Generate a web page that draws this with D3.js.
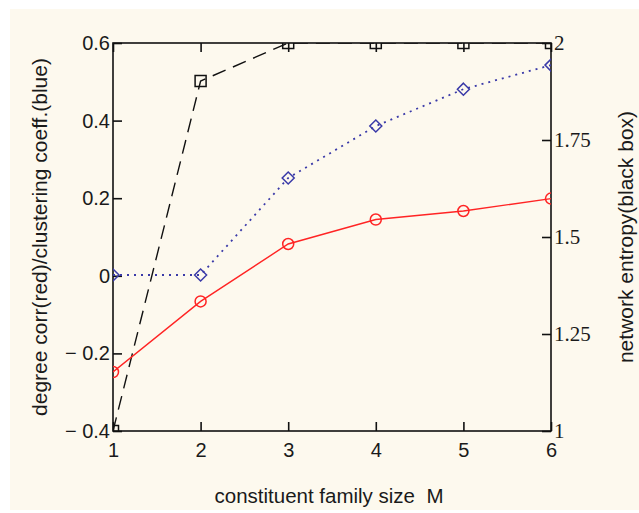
<!DOCTYPE html>
<html>
<head>
<meta charset="utf-8">
<script src="https://cdn.jsdelivr.net/npm/d3@7"></script>
<style>
  body { margin: 0; background: #fff; }
  svg { display: block; }
</style>
</head>
<body>
<div id="chart"></div>
<script>
// data
const familySize = [1, 2, 3, 4, 5, 6];
const degreeCorr = [-0.248, -0.066, 0.082, 0.145, 0.167, 0.199];
const clusteringCoeff = [0.002, 0.002, 0.252, 0.386, 0.481, 0.543];
const networkEntropy = [1.0, 1.902, 2.0, 2.0, 2.0, 2.0];

const xTicks = [1, 2, 3, 4, 5, 6];
const yLeftTicks = [-0.4, -0.2, 0, 0.2, 0.4, 0.6];
const yRightTicks = [1, 1.25, 1.5, 1.75, 2];
const yRightLabels = ['1', '1.25', '1.5', '1.75', '2'];

const width = 639, height = 513;
const plot = { left: 113, top: 43, right: 551, bottom: 431 };

const svg = d3.select('#chart')
  .append('svg')
  .attr('width', width)
  .attr('height', height);

// cream panel
svg.append('rect')
  .attr('x', 10)
  .attr('y', 9)
  .attr('width', width - 10)
  .attr('height', 501)
  .attr('fill', '#fdf9ee');

// scales
const x = d3.scaleLinear().domain([1, 6]).range([plot.left, plot.right]);
const yLeft = d3.scaleLinear().domain([-0.4, 0.6]).range([plot.bottom, plot.top]);
const yRight = d3.scaleLinear().domain([1, 2]).range([plot.bottom, plot.top]);

const sans = 'Liberation Sans, Arial, sans-serif';
const serif = 'Liberation Serif, Times New Roman, serif';

// clip to the plot box
svg.append('defs')
  .append('clipPath')
  .attr('id', 'plotClip')
  .append('rect')
  .attr('x', plot.left)
  .attr('y', plot.top)
  .attr('width', plot.right - plot.left)
  .attr('height', plot.bottom - plot.top);

// axes (inward ticks)
const fmtLeft = d => d < 0 ? '\u2212 ' + Math.abs(d) : String(d);

const gLeft = svg.append('g')
  .attr('transform', 'translate(' + plot.left + ',0)')
  .call(d3.axisLeft(yLeft).tickValues(yLeftTicks).tickFormat(fmtLeft)
    .tickSizeInner(-9).tickSizeOuter(0).tickPadding(3));
gLeft.selectAll('text').style('font-family', sans).style('font-size', '20px');

const gRight = svg.append('g')
  .attr('transform', 'translate(' + plot.right + ',0)')
  .call(d3.axisRight(yRight).tickValues(yRightTicks)
    .tickFormat((d, i) => yRightLabels[i])
    .tickSizeInner(-9).tickSizeOuter(0).tickPadding(3));
gRight.selectAll('text').style('font-family', serif).style('font-size', '21px');

const gBottom = svg.append('g')
  .attr('transform', 'translate(0,' + plot.bottom + ')')
  .call(d3.axisBottom(x).tickValues(xTicks).tickFormat(d3.format('d'))
    .tickSizeInner(-9).tickSizeOuter(0).tickPadding(12));
gBottom.selectAll('text').style('font-family', sans).style('font-size', '20px');

svg.append('g')
  .attr('transform', 'translate(0,' + plot.top + ')')
  .call(d3.axisTop(x).tickValues(xTicks).tickFormat('')
    .tickSizeInner(-9).tickSizeOuter(0));

svg.selectAll('.domain').remove();
svg.selectAll('.tick text').attr('fill', '#1a1a1a');
svg.selectAll('.tick line').attr('stroke', '#111').attr('stroke-width', 1.6);

// frame
svg.append('rect')
  .attr('x', plot.left)
  .attr('y', plot.top)
  .attr('width', plot.right - plot.left)
  .attr('height', plot.bottom - plot.top)
  .attr('fill', 'none')
  .attr('stroke', '#111')
  .attr('stroke-width', 1.6);

// series
const plotArea = svg.append('g').attr('clip-path', 'url(#plotClip)');

const series = [
  { values: networkEntropy, y: yRight, color: '#111', dash: '14,8', marker: 'square' },
  { values: clusteringCoeff, y: yLeft, color: '#3a3aa8', dash: '2,5', marker: 'diamond' },
  { values: degreeCorr, y: yLeft, color: '#ff2424', dash: null, marker: 'circle' },
];

const markerPath = {
  square: d3.symbol().type(d3.symbolSquare).size(121),
  diamond: () => 'M0,-6L6,0L0,6L-6,0Z',
  circle: d3.symbol().type(d3.symbolCircle).size(Math.PI * 5.5 * 5.5),
};

series.forEach(s => {
  const line = d3.line()
    .x((d, i) => x(familySize[i]))
    .y(d => s.y(d));

  plotArea.append('path')
    .attr('d', line(s.values))
    .attr('fill', 'none')
    .attr('stroke', s.color)
    .attr('stroke-width', s.marker === 'diamond' ? 1.8 : 1.4)
    .attr('stroke-dasharray', s.dash);

  plotArea.selectAll(null)
    .data(s.values)
    .enter()
    .append('path')
    .attr('transform', (d, i) => 'translate(' + x(familySize[i]) + ',' + s.y(d) + ')')
    .attr('d', markerPath[s.marker])
    .attr('fill', 'none')
    .attr('stroke', s.color)
    .attr('stroke-width', 1.5);
});

// axis titles
svg.append('text')
  .attr('transform', 'translate(47,' + (plot.top + plot.bottom) / 2 + ') rotate(-90)')
  .attr('text-anchor', 'middle')
  .style('font-family', sans)
  .style('font-size', '21px')
  .attr('fill', '#1a1a1a')
  .text('degree corr(red)/clustering coeff.(blue)');

svg.append('text')
  .attr('transform', 'translate(633,' + (plot.top + plot.bottom) / 2 + ') rotate(-90)')
  .attr('text-anchor', 'middle')
  .style('font-family', sans)
  .style('font-size', '21px')
  .attr('fill', '#1a1a1a')
  .text('network entropy(black box)');

svg.append('text')
  .attr('x', 329)
  .attr('y', 503)
  .attr('text-anchor', 'middle')
  .style('font-family', sans)
  .style('font-size', '20.5px')
  .style('white-space', 'pre')
  .attr('fill', '#1a1a1a')
  .text('constituent family size  M');
</script>
</body>
</html>
